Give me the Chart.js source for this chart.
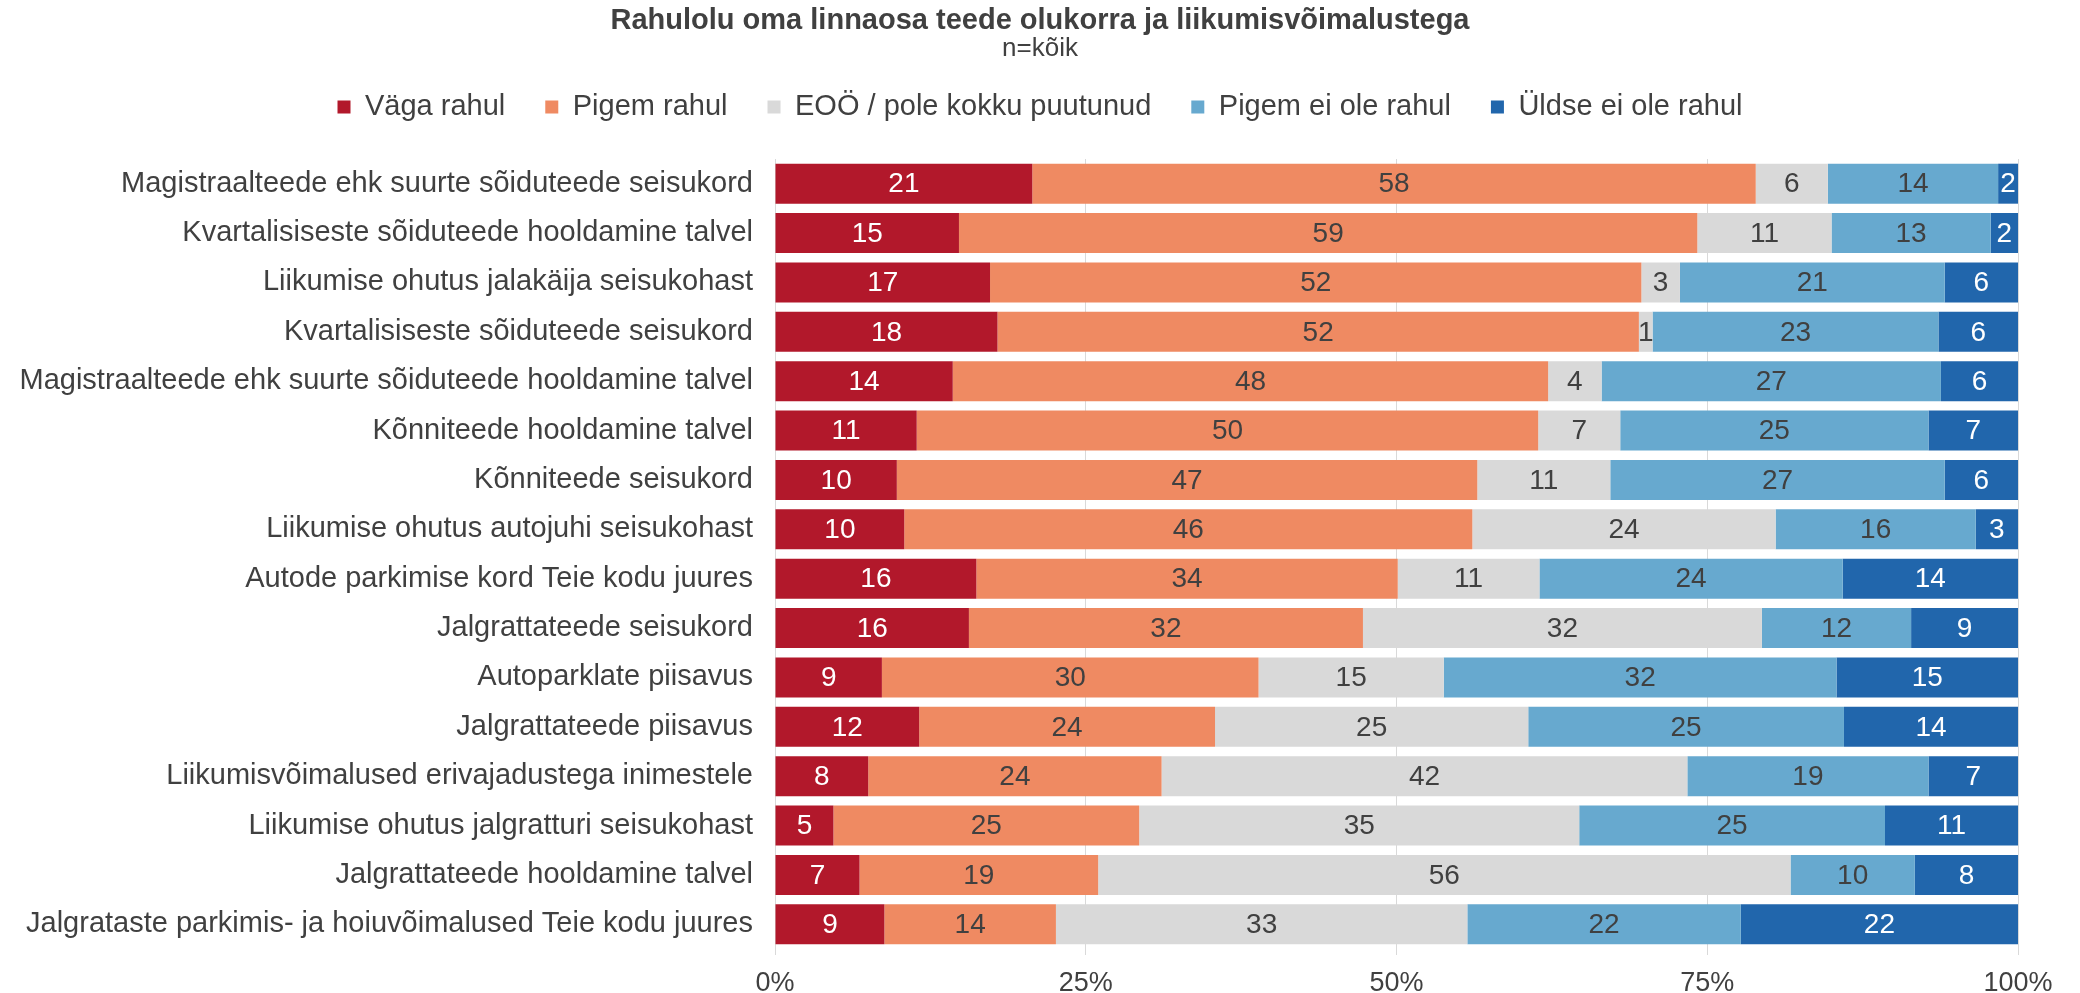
<!DOCTYPE html>
<html>
<head>
<meta charset="utf-8">
<script src="https://cdn.jsdelivr.net/npm/chart.js@4"></script>
<style>
  html, body { margin: 0; padding: 0; background: #ffffff; }
  canvas { display: block; }
</style>
</head>
<body>
<canvas id="chart" width="2080" height="993"></canvas>
<script>
// Categories (top to bottom)
const categories = [
  "Magistraalteede ehk suurte sõiduteede seisukord",
  "Kvartalisiseste sõiduteede hooldamine talvel",
  "Liikumise ohutus jalakäija seisukohast",
  "Kvartalisiseste sõiduteede seisukord",
  "Magistraalteede ehk suurte sõiduteede hooldamine talvel",
  "Kõnniteede hooldamine talvel",
  "Kõnniteede seisukord",
  "Liikumise ohutus autojuhi seisukohast",
  "Autode parkimise kord Teie kodu juures",
  "Jalgrattateede seisukord",
  "Autoparklate piisavus",
  "Jalgrattateede piisavus",
  "Liikumisvõimalused erivajadustega inimestele",
  "Liikumise ohutus jalgratturi seisukohast",
  "Jalgrattateede hooldamine talvel",
  "Jalgrataste parkimis- ja hoiuvõimalused Teie kodu juures"
];

// Series values (%)
const vagaRahul = [20.7, 14.8, 17.3, 17.9, 14.3, 11.4, 9.8, 10.4, 16.2, 15.6, 8.6, 11.6, 7.5, 4.7, 6.8, 8.8];
const pigemRahul = [58.2, 59.4, 52.4, 51.6, 47.9, 50.0, 46.7, 45.7, 33.9, 31.7, 30.3, 23.8, 23.6, 24.6, 19.2, 13.8];
const eoo = [5.8, 10.8, 3.1, 1.1, 4.3, 6.6, 10.7, 24.4, 11.4, 32.1, 14.9, 25.2, 42.3, 35.4, 55.7, 33.1];
const pigemEiOle = [13.7, 12.8, 21.3, 23.0, 27.3, 24.8, 26.9, 16.1, 24.4, 12.0, 31.6, 25.4, 19.4, 24.6, 10.0, 22.0];
const uldseEiOle = [1.6, 2.2, 5.9, 6.4, 6.2, 7.2, 5.9, 3.4, 14.1, 8.6, 14.6, 14.0, 7.2, 10.7, 8.3, 22.3];

const seriesNames = ["Väga rahul", "Pigem rahul", "EOÖ / pole kokku puutunud", "Pigem ei ole rahul", "Üldse ei ole rahul"];
const seriesColors = ["#b2182b", "#ef8a62", "#d9d9d9", "#67a9cf", "#2166ac"];
const labelColors = ["#ffffff", "#404040", "#404040", "#404040", "#ffffff"];
const xTicks = [0, 25, 50, 75, 100];

// The original text is narrow and widely spaced; use the narrow face if it is installed
function hasFont(name) {
  const c = document.createElement("canvas").getContext("2d");
  const sample = "abcdefghijklmnopqrstuvwxyz0123456789";
  c.font = "40px monospace";
  const w1 = c.measureText(sample).width;
  c.font = "40px '" + name + "', monospace";
  return c.measureText(sample).width !== w1;
}
const NARROW = hasFont("Liberation Sans Narrow");
const FONT = NARROW ? "'Liberation Sans Narrow', 'Liberation Sans', sans-serif" : "'Liberation Sans', Arial, sans-serif";
const SPACING = NARROW ? "2.5px" : "0px";
const TICK_FONT = "'Liberation Sans', Arial, sans-serif";
const TEXT = "#404040";

const spacingPlugin = {
  id: "spacing",
  beforeUpdate(chart) { chart.ctx.letterSpacing = SPACING; },
  beforeDraw(chart) {
    chart.ctx.letterSpacing = SPACING;
    // percent ticks are plain, unspaced text
    const s = chart.scales.x;
    if (!s.__plain) {
      const orig = s.drawLabels;
      s.drawLabels = function (area) {
        const prev = this.ctx.letterSpacing;
        this.ctx.letterSpacing = "0px";
        orig.call(this, area);
        this.ctx.letterSpacing = prev;
      };
      s.__plain = true;
    }
  }
};

// Value labels in the middle of each segment
const valueLabels = {
  id: "valueLabels",
  afterDatasetsDraw(chart) {
    const ctx = chart.ctx;
    ctx.save();
    ctx.font = "28px " + FONT;
    ctx.textAlign = "center";
    ctx.textBaseline = "middle";
    chart.data.datasets.forEach((ds, i) => {
      const meta = chart.getDatasetMeta(i);
      meta.data.forEach((bar, j) => {
        const p = bar.getProps(["x", "y", "base"], true);
        ctx.fillStyle = labelColors[i];
        ctx.fillText(String(Math.round(ds.data[j])), (p.x + p.base) / 2, p.y + 1);
      });
    });
    ctx.restore();
  }
};

const allSeries = [vagaRahul, pigemRahul, eoo, pigemEiOle, uldseEiOle];

const datasets = allSeries.map((values, i) => ({
  label: seriesNames[i],
  data: values,
  backgroundColor: seriesColors[i],
  borderWidth: 0,
  xAxisID: "x",
  yAxisID: "y",
  barPercentage: 0.81,
  categoryPercentage: 1.0
}));

// empty spacer axis used to keep a gap above / right of the plot
const spacer = (pos, size) => ({
  type: "linear",
  axis: pos === "top" ? "x" : "y",
  position: pos,
  display: true,
  grid: { display: false },
  border: { display: false },
  ticks: { display: false },
  afterFit: (s) => {
    if (pos === "top") s.height = size; else s.width = size;
  }
});

new Chart(document.getElementById("chart"), {
  type: "bar",
  data: { labels: categories, datasets: datasets },
  plugins: [spacingPlugin, valueLabels],
  options: {
    indexAxis: "y",
    responsive: false,
    animation: false,
    layout: { padding: 0 },
    plugins: {
      title: {
        display: true,
        text: "Rahulolu oma linnaosa teede olukorra ja liikumisvõimalustega",
        color: TEXT,
        font: { family: FONT, size: 29, weight: "bold", lineHeight: 1.1 },
        padding: { top: 5, bottom: 0 }
      },
      subtitle: {
        display: true,
        text: "n=kõik",
        color: TEXT,
        font: { family: FONT, size: 26, lineHeight: 1.1 },
        padding: { top: -2, bottom: -11 }
      },
      legend: {
        display: true,
        position: "top",
        labels: {
          color: TEXT,
          font: { family: FONT, size: 29 },
          boxWidth: 13,
          boxHeight: 13,
          padding: 40
        }
      },
      tooltip: { enabled: false }
    },
    scales: {
      x: {
        type: "linear",
        position: "bottom",
        stacked: true,
        min: 0,
        max: 100,
        afterBuildTicks: (s) => { s.ticks = xTicks.map((v) => ({ value: v })); },
        afterFit: (s) => { s.height = 44; },
        grid: { color: "#d9d9d9", lineWidth: 1, tickLength: 6, drawTicks: true },
        border: { display: false },
        ticks: {
          color: TEXT,
          font: { family: TICK_FONT, size: 27 },
          padding: 12,
          maxRotation: 0,
          callback: (v) => v + "%"
        }
      },
      xTop: spacer("top", 27.5),
      yRight: spacer("right", 62),
      y: {
        type: "category",
        stacked: true,
        afterFit: (s) => { s.width = 775; },
        grid: { display: false, drawTicks: false },
        border: { display: false },
        ticks: {
          color: TEXT,
          font: { family: FONT, size: 29 },
          padding: 22,
          autoSkip: false
        }
      }
    }
  }
});
</script>
</body>
</html>
